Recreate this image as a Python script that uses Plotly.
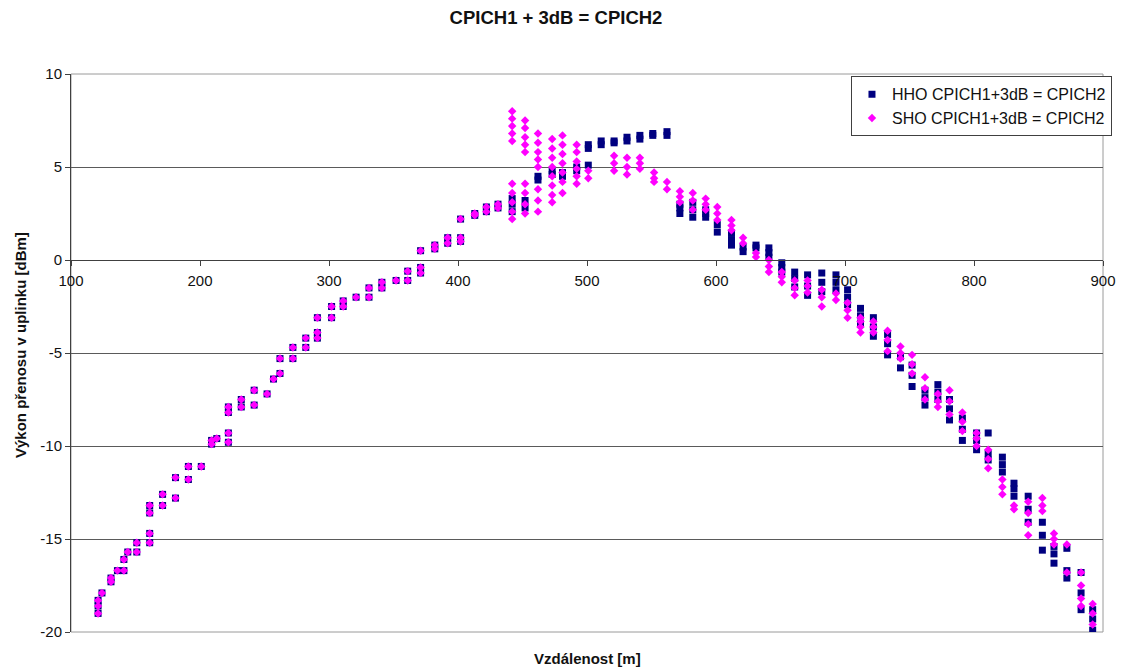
import plotly.graph_objects as go

# Measured uplink transmit power vs. distance, (distance [m], power [dBm])
# Readings below ~435 m are identical for both handover types.
common_points = [
    (121, -18.3), (121, -18.6), (121, -19.0), (124, -17.9), (131, -17.3), (131, -17.1),
    (136, -16.7), (141, -16.7), (141, -16.1), (144, -15.7), (151, -15.7), (151, -15.2),
    (161, -15.2), (161, -14.7), (161, -13.6), (161, -13.2), (171, -13.2), (171, -12.6),
    (181, -12.8), (181, -11.7), (191, -11.8), (191, -11.1), (201, -11.1), (209, -9.9),
    (209, -9.7), (213, -9.6), (222, -9.8), (222, -9.3), (222, -8.2), (222, -7.9),
    (232, -7.9), (232, -7.5), (242, -7.8), (242, -7.0), (252, -7.2), (257, -6.4),
    (262, -6.1), (262, -5.3), (272, -5.3), (272, -4.7), (282, -4.7), (282, -4.2),
    (291, -4.2), (291, -3.9), (291, -3.1), (302, -3.1), (302, -2.5), (311, -2.5),
    (311, -2.2), (321, -2.0), (331, -2.0), (331, -1.5), (341, -1.5), (341, -1.2),
    (352, -1.1), (361, -1.1), (361, -0.6), (371, -0.7), (371, -0.4), (371, 0.5),
    (382, 0.6), (382, 0.8), (392, 0.9), (392, 1.2), (402, 1.0), (402, 1.2),
    (402, 2.2), (413, 2.4), (413, 2.5), (422, 2.6), (422, 2.85), (431, 2.8), (431, 3.0),
]

hho_points = [
    (442, 2.6), (442, 3.0), (442, 3.3), (452, 2.8), (452, 3.2), (462, 4.3), (462, 4.5),
    (473, 4.6), (473, 4.8), (481, 4.5), (481, 4.7), (492, 4.8), (492, 5.0),
    (501, 5.1), (501, 6.0), (501, 6.2), (511, 6.2), (511, 6.4), (521, 6.3), (521, 6.4),
    (531, 6.4), (531, 6.6), (541, 6.5), (541, 6.7), (551, 6.7), (551, 6.8),
    (562, 6.7), (562, 6.9), (572, 2.5), (572, 2.8), (572, 3.0),
    (582, 2.3), (582, 2.7), (582, 3.1), (592, 2.3), (592, 2.5), (592, 2.7),
    (601, 1.5), (601, 1.9), (612, 0.8), (612, 1.1), (612, 1.45), (621, 0.45), (621, 0.7),
    (631, 0.65), (631, 0.8), (641, 0.15), (641, 0.4), (641, 0.65),
    (651, -0.65), (651, -0.4), (651, -0.15), (661, -1.45), (661, -1.0), (661, -0.65),
    (671, -1.9), (671, -1.4), (671, -0.8), (682, -1.7), (682, -1.2), (682, -0.7),
    (693, -1.6), (693, -1.2), (693, -0.8), (702, -2.4), (702, -2.0), (702, -1.6),
    (712, -3.4), (712, -3.0), (712, -2.6), (722, -4.1), (722, -3.6), (722, -3.1),
    (733, -5.1), (733, -4.5), (733, -4.0), (743, -5.8), (743, -5.2),
    (752, -6.8), (752, -6.2), (752, -5.65), (762, -7.8), (762, -7.4), (762, -7.0),
    (772, -7.5), (772, -7.1), (772, -6.7), (781, -8.6), (781, -8.0), (781, -7.5),
    (791, -9.7), (791, -9.1), (791, -8.5), (802, -10.2), (802, -9.7), (802, -9.3),
    (811, -9.3), (811, -10.4), (811, -10.75), (822, -11.4), (822, -11.0), (822, -10.6),
    (831, -12.7), (831, -12.3), (831, -12.0), (842, -14.1), (842, -13.4), (842, -12.7),
    (853, -15.6), (853, -14.8), (853, -14.1), (862, -16.3), (862, -15.8), (862, -15.4),
    (872, -15.5), (872, -16.7), (872, -17.1), (883, -18.8), (883, -17.9), (883, -16.8),
    (892, -19.9), (892, -19.3), (892, -18.8),
]

sho_points = [
    (442, 8.0), (442, 7.6), (442, 7.2), (442, 6.8), (442, 6.4),
    (442, 4.1), (442, 3.6), (442, 3.1), (442, 2.6), (442, 2.2),
    (452, 7.5), (452, 7.1), (452, 6.6), (452, 6.2), (452, 5.8),
    (452, 4.1), (452, 3.6), (452, 3.0), (452, 2.5),
    (462, 6.8), (462, 6.3), (462, 5.8), (462, 5.4), (462, 5.0),
    (462, 3.8), (462, 3.2), (462, 2.6),
    (473, 6.5), (473, 6.0), (473, 5.5), (473, 5.0), (473, 4.5), (473, 4.0), (473, 3.5), (473, 3.1),
    (481, 6.7), (481, 6.2), (481, 5.7), (481, 5.2), (481, 4.7), (481, 4.2), (481, 3.6),
    (492, 6.2), (492, 5.8), (492, 5.3), (492, 4.9), (492, 4.5), (492, 4.1),
    (501, 4.8), (501, 4.4), (521, 5.6), (521, 5.2), (521, 4.8),
    (531, 5.5), (531, 5.0), (531, 4.6), (541, 5.5), (541, 5.2), (541, 4.9),
    (552, 4.7), (552, 4.4), (552, 4.2), (562, 4.2), (562, 3.8),
    (572, 3.7), (572, 3.4), (572, 3.1), (582, 3.6), (582, 3.2), (582, 2.7),
    (592, 3.3), (592, 3.0), (592, 2.7), (601, 2.85), (601, 2.5), (601, 2.15),
    (612, 2.15), (612, 1.85), (612, 1.6), (621, 1.2), (621, 0.9), (631, 0.37), (631, 0.16),
    (641, 0.0), (641, -0.35), (641, -0.65), (651, -0.65), (651, -0.9), (651, -1.2),
    (661, -1.1), (661, -1.5), (661, -1.9), (671, -1.1), (671, -1.4), (671, -1.75),
    (682, -1.6), (682, -2.0), (682, -2.5), (693, -1.8), (693, -2.15),
    (702, -2.3), (702, -2.7), (702, -3.1), (712, -3.1), (712, -3.3), (712, -3.6), (712, -3.9),
    (722, -3.3), (722, -3.6), (722, -3.9), (733, -3.8), (733, -4.3), (733, -4.9),
    (743, -4.65), (743, -5.0), (743, -5.3), (752, -5.1), (752, -5.6), (752, -6.1),
    (762, -6.3), (762, -6.9), (762, -7.5), (772, -7.2), (772, -7.6), (772, -7.9),
    (781, -7.0), (781, -7.6), (781, -8.3), (791, -8.2), (791, -8.7), (791, -9.2),
    (802, -9.3), (802, -9.6), (802, -10.0), (811, -10.2), (811, -10.7), (811, -11.2),
    (822, -11.8), (822, -12.2), (822, -12.6), (831, -13.2), (831, -13.4),
    (842, -13.0), (842, -13.6), (842, -14.2), (842, -14.8),
    (853, -12.8), (853, -13.2), (853, -13.5), (862, -14.7), (862, -15.0), (862, -15.3),
    (872, -15.3), (872, -16.8), (883, -16.8), (883, -17.5), (883, -18.2), (883, -18.6),
    (892, -18.5), (892, -19.0), (892, -19.6),
]

x_ticks = [100, 200, 300, 400, 500, 600, 700, 800, 900]
y_ticks = [-20, -15, -10, -5, 0, 5, 10]
y_tick_text = ["-20", "-15", "-10", "-5", "0", "5", "10"]

hho = common_points + hho_points
sho = common_points + sho_points

FONT = "Liberation Sans, Arial, sans-serif"

fig = go.Figure()
fig.add_trace(go.Scatter(
    x=[p[0] for p in hho], y=[p[1] for p in hho], mode="markers",
    name="HHO CPICH1+3dB = CPICH2",
    marker=dict(symbol="square", size=7, color="#000080", line=dict(width=0)),
))
fig.add_trace(go.Scatter(
    x=[p[0] for p in sho], y=[p[1] for p in sho], mode="markers",
    name="SHO CPICH1+3dB = CPICH2",
    marker=dict(symbol="diamond", size=6.5, color="#FF00FF", line=dict(width=0)),
))

# x axis crosses the value axis at 0 dBm (2/3 of the way up the plot area)
fig.update_xaxes(
    range=[100, 900], tickvals=x_ticks, showgrid=False, zeroline=False,
    showline=True, linecolor="#404040", linewidth=1,
    ticks="outside", ticklen=5, tickcolor="#404040", ticklabelstandoff=2,
    anchor="free", position=2 / 3,
    tickfont=dict(family=FONT, size=15, color="#111"),
)
fig.update_yaxes(
    range=[-20, 10], tickvals=y_ticks, ticktext=y_tick_text,
    showgrid=True, gridcolor="#5a5a5a", gridwidth=1,
    zeroline=False, showline=True, linecolor="#404040", linewidth=1,
    ticks="outside", ticklen=5, tickcolor="#404040",
    tickfont=dict(family=FONT, size=15, color="#111"),
)

fig.update_layout(
    width=1127, height=671,
    margin=dict(l=71, r=24, t=74, b=39),
    paper_bgcolor="white", plot_bgcolor="white",
    title=dict(text="<b>CPICH1 + 3dB = CPICH2</b>", x=556 / 1127, xanchor="center",
               y=1 - 18 / 671, yanchor="middle",
               font=dict(family=FONT, size=18.5, color="#111")),
    legend=dict(
        x=1.0087, xanchor="right", y=0.996, yanchor="top",
        bgcolor="white", bordercolor="#404040", borderwidth=1,
        font=dict(family=FONT, size=16, color="#111"),
    ),
    showlegend=True,
    shapes=[dict(type="rect", xref="paper", yref="paper", x0=0, x1=1, y0=0, y1=1,
                 line=dict(color="#9a9a9a", width=1), layer="below")],
    annotations=[
        dict(text="<b>Vzdálenost [m]</b>", xref="paper", yref="paper",
             x=0.5, y=-26 / 558, xanchor="center", yanchor="middle", showarrow=False,
             font=dict(family=FONT, size=15, color="#111")),
        dict(text="<b>Výkon přenosu v uplinku [dBm]</b>", xref="paper", yref="paper",
             x=-51 / 1032, y=(632 - 345) / 558, xanchor="center", yanchor="middle",
             showarrow=False, textangle=-90,
             font=dict(family=FONT, size=15, color="#111")),
    ],
)

fig.write_html("out.html")
